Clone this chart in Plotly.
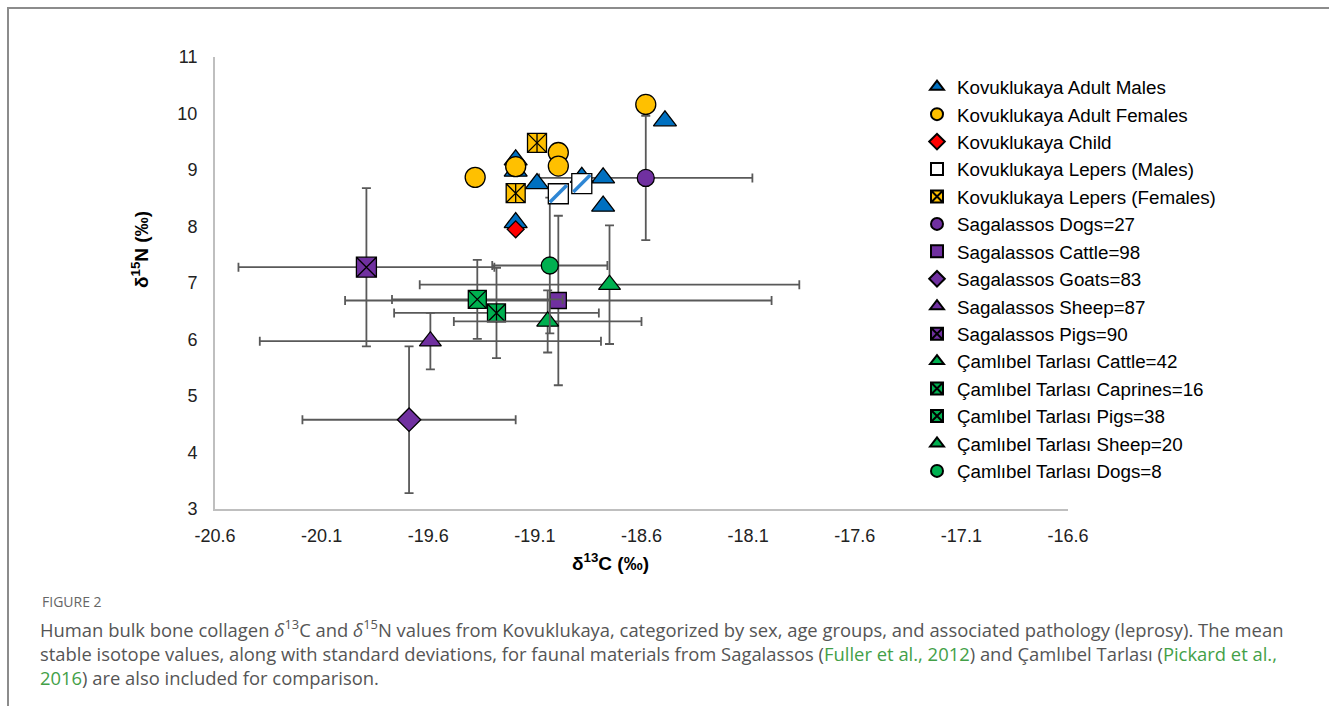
import plotly.graph_objects as go

# ---------------- data ----------------
x_ticks = [-20.6, -20.1, -19.6, -19.1, -18.6, -18.1, -17.6, -17.1, -16.6]
x_tick_text = ["-20.6", "-20.1", "-19.6", "-19.1", "-18.6", "-18.1", "-17.6", "-17.1", "-16.6"]
y_ticks = [3, 4, 5, 6, 7, 8, 9, 10, 11]

# Kovuklukaya humans
males_c = [-18.49, -18.78, -18.78, -18.88, -19.09, -19.19, -19.19, -19.19]
males_n = [9.87, 8.86, 8.36, 8.87, 8.76, 9.18, 8.98, 8.07]
females_c = [-19.38, -19.19, -18.99, -18.99, -18.58]
females_n = [8.87, 9.06, 9.31, 9.07, 10.16]
child_c = [-19.19]
child_n = [7.95]
lepm_c = [-18.99, -18.88]
lepm_n = [8.58, 8.76]
lepf_c = [-19.09, -19.19]
lepf_n = [9.48, 8.59]

# Faunal means with standard deviations
fauna_names = ["Sagalassos Dogs=27", "Sagalassos Cattle=98", "Sagalassos Goats=83",
               "Sagalassos Sheep=87", "Sagalassos Pigs=90",
               "Çamlıbel Tarlası Cattle=42", "Çamlıbel Tarlası Caprines=16",
               "Çamlıbel Tarlası Pigs=38", "Çamlıbel Tarlası Sheep=20",
               "Çamlıbel Tarlası Dogs=8"]
fauna_c = [-18.58, -18.99, -19.69, -19.59, -19.89, -18.75, -19.28, -19.37, -19.04, -19.03]
fauna_n = [8.86, 6.69, 4.58, 5.97, 7.28, 6.97, 6.47, 6.71, 6.32, 7.31]
fauna_sd_c = [0.50, 1.00, 0.50, 0.80, 0.60, 0.89, 0.48, 0.40, 0.44, 0.27]
fauna_sd_n = [1.10, 1.50, 1.30, 0.50, 1.40, 1.05, 0.80, 0.70, 0.55, 1.20]

# ---------------- styling ----------------
BLUE = "#0070C0"
YELLOW = "#FFC000"
RED = "#FF0000"
PURPLE = "#7030A0"
GREEN = "#00B050"
ERR = "#595959"
FONT = "Liberation Sans, Arial, sans-serif"

fauna_style = [
    dict(symbol="circle", color=PURPLE, size=17),
    dict(symbol="square", color=PURPLE, size=16),
    dict(symbol="diamond", color=PURPLE, size=18),
    dict(symbol="triangle-up", color=PURPLE, size=19),
    dict(symbol="square-x", color=PURPLE, size=20),
    dict(symbol="triangle-up", color=GREEN, size=19),
    dict(symbol="square-x", color=GREEN, size=18),
    dict(symbol="square-x", color=GREEN, size=18),
    dict(symbol="triangle-up", color=GREEN, size=19),
    dict(symbol="circle", color=GREEN, size=17),
]

# plot area in pixels
L, R, T, B = 215, 1068, 57, 509
W, H = 1329, 706


def px_x(px):
    return (px - L) / (R - L)


def px_y(py):
    return (B - py) / (B - T)


fig = go.Figure()

# faunal series first (drawn underneath)
for i, name in enumerate(fauna_names):
    st = fauna_style[i]
    fig.add_trace(go.Scatter(
        x=[fauna_c[i]], y=[fauna_n[i]], mode="markers", name=name,
        legendrank=6 + i,
        marker=dict(symbol=st["symbol"], color=st["color"], size=st["size"],
                    line=dict(color="black", width=1.3)),
        error_x=dict(type="data", array=[fauna_sd_c[i]], visible=True,
                     color=ERR, thickness=1.8, width=4.5),
        error_y=dict(type="data", array=[fauna_sd_n[i]], visible=True,
                     color=ERR, thickness=1.8, width=4.5),
    ))
    if name.startswith("Çamlıbel Tarlası Caprines"):
        fig.add_trace(go.Scatter(
            x=[fauna_c[i]], y=[fauna_n[i]], mode="markers", showlegend=False,
            marker=dict(symbol="line-ns", size=13, line=dict(color="black", width=1.3)),
        ))

# humans on top
fig.add_trace(go.Scatter(
    x=males_c, y=males_n, mode="markers", name="Kovuklukaya Adult Males", legendrank=1,
    marker=dict(symbol="triangle-up", color=BLUE, size=20, line=dict(color="black", width=1.3)),
))
fig.add_trace(go.Scatter(
    x=females_c, y=females_n, mode="markers", name="Kovuklukaya Adult Females", legendrank=2,
    marker=dict(symbol="circle", color=YELLOW, size=20, line=dict(color="black", width=1.3)),
))
fig.add_trace(go.Scatter(
    x=child_c, y=child_n, mode="markers", name="Kovuklukaya Child", legendrank=3,
    marker=dict(symbol="diamond", color=RED, size=13, line=dict(color="black", width=1.3)),
))
fig.add_trace(go.Scatter(
    x=lepm_c, y=lepm_n, mode="markers", name="Kovuklukaya Lepers (Males)", legendrank=4,
    marker=dict(symbol="square", color="white", size=20, line=dict(color="black", width=1.3)),
))
fig.add_trace(go.Scatter(
    x=lepm_c, y=lepm_n, mode="markers", showlegend=False,
    marker=dict(symbol="line-ne", size=17, line=dict(color="#2E86D4", width=3.5)),
))
fig.add_trace(go.Scatter(
    x=lepf_c, y=lepf_n, mode="markers", name="Kovuklukaya Lepers (Females)", legendrank=5,
    marker=dict(symbol="square-x", color=YELLOW, size=19, line=dict(color="black", width=1.3)),
))
fig.add_trace(go.Scatter(
    x=lepf_c, y=lepf_n, mode="markers", showlegend=False,
    marker=dict(symbol="line-ns", size=13.5, line=dict(color="black", width=1.3)),
))

# caption / frame
LINK = "#43a047"
caption_lines = [
    "Human bulk bone collagen <i>δ</i><sup>13</sup>C and <i>δ</i><sup>15</sup>N values from Kovuklukaya, categorized by sex, age groups, and associated pathology (leprosy). The mean",
    f"stable isotope values, along with standard deviations, for faunal materials from Sagalassos (<span style='color:{LINK}'>Fuller et al., 2012</span>) and Çamlıbel Tarlası (<span style='color:{LINK}'>Pickard et al.,</span>",
    f"<span style='color:{LINK}'>2016</span>) are also included for comparison.",
]
caption_y = [628, 653, 677]

annotations = [
    dict(text="<b>δ<sup>15</sup>N (‰)</b>", x=px_x(140), y=px_y(250), xref="paper", yref="paper",
         textangle=-90, showarrow=False, font=dict(family=FONT, size=19, color="black"),
         xanchor="center", yanchor="middle"),
    dict(text="<b>δ<sup>13</sup>C (‰)</b>", x=px_x(610), y=px_y(562), xref="paper", yref="paper",
         showarrow=False, font=dict(family=FONT, size=19, color="black"),
         xanchor="center", yanchor="middle"),
    dict(text="FIGURE 2", x=px_x(40), y=px_y(601), xref="paper", yref="paper",
         showarrow=False, font=dict(family="Open Sans, sans-serif", size=14, color="#666666"),
         xanchor="left", yanchor="middle"),
]
for txt, yy in zip(caption_lines, caption_y):
    annotations.append(dict(text=txt, x=px_x(38), y=px_y(yy), xref="paper", yref="paper",
                            showarrow=False,
                            font=dict(family="Open Sans, sans-serif", size=18.4, color="#555555"),
                            xanchor="left", yanchor="middle"))

shapes = [
    dict(type="line", xref="paper", yref="paper", x0=px_x(7), x1=px_x(1329), y0=px_y(8), y1=px_y(8),
         line=dict(color="#8c8c8c", width=2)),
    dict(type="line", xref="paper", yref="paper", x0=px_x(8), x1=px_x(8), y0=px_y(7), y1=px_y(706),
         line=dict(color="#8c8c8c", width=2)),
]

fig.update_layout(
    width=W, height=H, autosize=False,
    margin=dict(l=L, r=W - R, t=T, b=H - B),
    paper_bgcolor="white", plot_bgcolor="white",
    showlegend=True,
    legend=dict(x=px_x(917), y=px_y(68), xanchor="left", yanchor="top",
                font=dict(family=FONT, size=18.8, color="black"),
                itemsizing="constant", bgcolor="rgba(0,0,0,0)", tracegroupgap=0),
    xaxis=dict(range=[-20.6, -16.6], tickvals=x_ticks, ticktext=x_tick_text,
               showgrid=False, zeroline=False, showline=True, linecolor="#bfbfbf", linewidth=2,
               ticks="", ticklabelstandoff=9,
               tickfont=dict(family=FONT, size=18, color="#222222")),
    yaxis=dict(range=[3, 11], tickvals=y_ticks,
               showgrid=False, zeroline=False, showline=True, linecolor="#bfbfbf", linewidth=2,
               ticks="", ticklabelstandoff=12,
               tickfont=dict(family=FONT, size=18, color="#222222")),
    annotations=annotations,
    shapes=shapes,
)

fig.write_html("out.html")
